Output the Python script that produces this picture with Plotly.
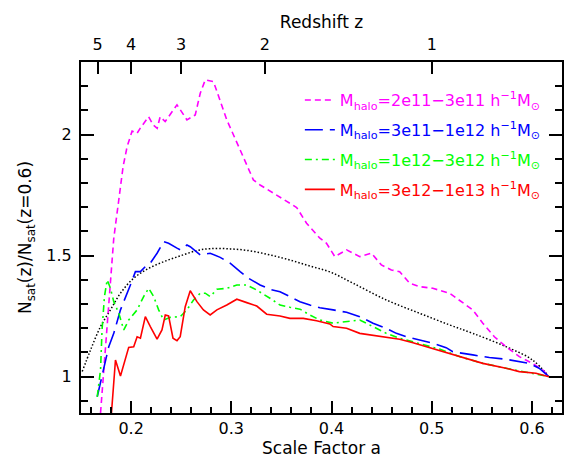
import plotly.graph_objects as go

# ---- data ----
a_mag = [0.1695, 0.1827, 0.1877, 0.192, 0.196, 0.201, 0.206, 0.209, 0.2175, 0.222, 0.226, 0.229, 0.234,
         0.2458, 0.2557, 0.264, 0.269, 0.274, 0.2822, 0.2955, 0.3088, 0.322, 0.3287, 0.3486, 0.3652,
         0.3751, 0.3884, 0.395, 0.4033, 0.415, 0.4282, 0.4398, 0.4497, 0.4597, 0.468, 0.478, 0.4879,
         0.5011, 0.5177, 0.541, 0.551, 0.5625, 0.5741, 0.5874, 0.6006, 0.6106, 0.617]
v_mag = [0.85, 1.572, 1.73, 1.868, 1.95, 2.015, 2.006, 2.026, 2.074, 2.04, 2.026, 2.074, 2.054,
         2.123, 2.061, 2.081, 2.171, 2.226, 2.219, 2.061, 1.937, 1.813, 1.792, 1.740, 1.699,
         1.634, 1.572, 1.551, 1.496, 1.524, 1.496, 1.51, 1.462, 1.441, 1.434, 1.386, 1.372,
         1.365, 1.345, 1.276, 1.221, 1.165, 1.124, 1.083, 1.055, 1.028, 1.0]

a_blue = [0.1662, 0.171, 0.1777, 0.1827, 0.1894, 0.1993, 0.2043, 0.2093, 0.2142, 0.2192, 0.2259, 0.2325,
          0.2374, 0.2458, 0.249, 0.2557, 0.259, 0.269, 0.2789, 0.2889, 0.2988, 0.3088, 0.317, 0.3287,
          0.3386, 0.3486, 0.3585, 0.3685, 0.3784, 0.3884, 0.4016, 0.415, 0.4282, 0.4414, 0.4547,
          0.4647, 0.4746, 0.4879, 0.5011, 0.5144, 0.521, 0.541, 0.5575, 0.5741, 0.5874, 0.5973,
          0.6072, 0.617]
v_blue = [0.917, 1.0, 1.124, 1.179, 1.276, 1.379, 1.434, 1.434, 1.455, 1.469, 1.51, 1.558,
          1.551, 1.531, 1.524, 1.544, 1.537, 1.503, 1.51, 1.493, 1.469, 1.434, 1.407, 1.379,
          1.361, 1.351, 1.331, 1.31, 1.296, 1.285, 1.276, 1.266, 1.248, 1.221, 1.2,
          1.179, 1.165, 1.152, 1.138, 1.12, 1.103, 1.09, 1.079, 1.072, 1.062, 1.055,
          1.035, 1.0]

a_green = [0.1662, 0.1695, 0.171, 0.1734, 0.1761, 0.1794, 0.1827, 0.1877, 0.1927, 0.1976, 0.206, 0.2125,
           0.2175, 0.2225, 0.2275, 0.2325, 0.2391, 0.249, 0.2557, 0.2623, 0.269, 0.274, 0.2789, 0.2856,
           0.2955, 0.3055, 0.3154, 0.3254, 0.3386, 0.3486, 0.3585, 0.3685, 0.3784, 0.3884, 0.4016,
           0.415, 0.4282, 0.4414, 0.4547, 0.468, 0.4813, 0.4945, 0.5078, 0.5277, 0.551, 0.5741,
           0.5907, 0.617]
v_green = [0.917, 1.028, 1.193, 1.331, 1.4, 1.365, 1.31, 1.262, 1.193, 1.234, 1.276, 1.331,
           1.365, 1.331, 1.276, 1.234, 1.245, 1.248, 1.276, 1.317, 1.345, 1.345, 1.331, 1.361,
           1.365, 1.379, 1.379, 1.358, 1.324, 1.296, 1.287, 1.279, 1.255, 1.234, 1.221,
           1.227, 1.234, 1.207, 1.179, 1.159, 1.145, 1.131, 1.114, 1.083, 1.055, 1.035,
           1.021, 1.0]

a_red = [0.1804, 0.1844, 0.1894, 0.1927, 0.1976, 0.2026, 0.206, 0.2093, 0.2142, 0.2192, 0.2259, 0.2308,
         0.2341, 0.2374, 0.2418, 0.2458, 0.249, 0.254, 0.259, 0.2657, 0.2722, 0.2789, 0.2856, 0.2955,
         0.3055, 0.3154, 0.3254, 0.3353, 0.3486, 0.3585, 0.3718, 0.3851, 0.3983, 0.4016, 0.415,
         0.4282, 0.4414, 0.4547, 0.468, 0.4813, 0.4945, 0.5078, 0.5277, 0.551, 0.5741, 0.5874,
         0.604, 0.617]
v_red = [0.85, 1.069, 1.003, 1.055, 1.121, 1.124, 1.165, 1.159, 1.248, 1.207, 1.155, 1.193,
         1.255, 1.251, 1.159, 1.149, 1.165, 1.289, 1.355, 1.31, 1.276, 1.255, 1.276, 1.296,
         1.320, 1.306, 1.292, 1.258, 1.251, 1.241, 1.241, 1.231, 1.218, 1.207, 1.2,
         1.179, 1.172, 1.165, 1.155, 1.14, 1.124, 1.11, 1.086, 1.055, 1.035, 1.021,
         1.014, 1.0]

a_dot = [0.1512, 0.1595, 0.1695, 0.1794, 0.1894, 0.2026, 0.2159, 0.2325, 0.249, 0.2657, 0.2789, 0.2988,
         0.3187, 0.3386, 0.3585, 0.3784, 0.3983, 0.4215, 0.4547, 0.4879, 0.5177, 0.541, 0.5741,
         0.6006, 0.617]
v_dot = [1.021, 1.11, 1.207, 1.276, 1.345, 1.407, 1.444, 1.475, 1.499, 1.521, 1.529, 1.528,
         1.52, 1.503, 1.482, 1.457, 1.433, 1.386, 1.317, 1.262, 1.214, 1.179, 1.124,
         1.069, 1.0]

z_ticks = [5, 4, 3, 2, 1]
series_names = ["2e11\u22123e11", "3e11\u22121e12", "1e12\u22123e12", "3e12\u22121e13"]
series_colors = ["#ff00ff", "#0000ff", "#00ff00", "#ff0000"]

FONT = "DejaVu Sans"

def lab(name, col):
    return (f'<span style="color:{col}">M<sub>halo</sub>={name} '
            f'h<sup>\u22121</sup>M<sub>\u2299</sub></span>')

fig = go.Figure()
fig.add_trace(go.Scatter(x=a_dot, y=v_dot, mode="lines", showlegend=False,
                         line=dict(color="black", width=1.5, dash="1.5px,2px", shape="spline")))
series = [(a_mag, v_mag, "6px,4px"), (a_blue, v_blue, "18px,7px"),
          (a_green, v_green, "7px,4px,2px,4px"), (a_red, v_red, "solid")]
for i, ((xs, ys, dash), nm, col) in enumerate(zip(series, series_names, series_colors)):
    fig.add_trace(go.Scatter(x=xs, y=ys, mode="lines", name=lab(nm, col), legendgroup=f"g{i}",
                             line=dict(color=col, width=1.6, dash=dash)))

# invisible trace for top axis
fig.add_trace(go.Scatter(x=[0.15, 0.63], y=[1, 1], xaxis="x2", mode="lines",
                         line=dict(width=0), showlegend=False, hoverinfo="skip"))

axis_common = dict(showline=True, linecolor="black", linewidth=2, ticks="inside",
                   tickcolor="black", tickwidth=1.5, showgrid=False, zeroline=False,
                   automargin=False,
                   tickfont=dict(family=FONT, size=16, color="black"))

fig.update_layout(
    width=564, height=462,
    margin=dict(l=81, r=2, t=62, b=49),
    paper_bgcolor="white", plot_bgcolor="white",
    font=dict(family=FONT, size=16, color="black"),
    xaxis=dict(range=[0.15, 0.63], dtick=0.1, tick0=0, ticklen=12, ticklabelstandoff=0,
               minor=dict(dtick=0.02, tick0=0, ticklen=6, ticks="inside", tickcolor="black", tickwidth=1.5),
               title=dict(text="Scale Factor a", font=dict(family=FONT, size=17), standoff=2),
               **axis_common),
    xaxis2=dict(range=[0.15, 0.63], overlaying="x", side="top", anchor="y",
                tickvals=[1.0 / (1 + z) for z in z_ticks], ticktext=[str(z) for z in z_ticks],
                ticklen=12, ticklabelstandoff=4,
                title=dict(text="Redshift z", font=dict(family=FONT, size=17), standoff=2),
                **axis_common),
    yaxis=dict(range=[0.85, 2.3], tickvals=[1, 1.5, 2], ticktext=["1", "1.5", "2"], ticklen=13,
               mirror="ticks", ticklabelstandoff=4,
               minor=dict(dtick=0.1, tick0=0, ticklen=7, ticks="inside", tickcolor="black", tickwidth=1.5),
               title=dict(text="N<sub>sat</sub>(z)/N<sub>sat</sub>(z=0.6)", font=dict(family=FONT, size=17),
                          standoff=10),
               **axis_common),
    legend=dict(x=0.455, y=0.94, xanchor="left", yanchor="top", bgcolor="rgba(0,0,0,0)",
                font=dict(family=FONT, size=16), itemwidth=30, tracegroupgap=6),
)

fig.write_html("out.html", config={"displayModeBar": False},
               post_script="document.body.style.margin='0px';")
